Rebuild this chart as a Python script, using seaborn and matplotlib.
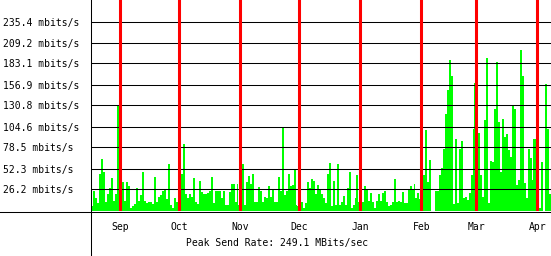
import numpy as np
import pandas as pd
import matplotlib
matplotlib.use("Agg")
import matplotlib.pyplot as plt
from matplotlib.lines import Line2D
import seaborn as sns

# ---- data (daily peak send rate, mbits/s), 2008-08-17 .. 2009-04-07 ----
aug = [5, 24, 15, 9, 46, 64, 48, 10, 21, 28, 40, 12, 20, 131, 104]
sep = [15, 35, 12, 35, 30, 3, 5, 8, 28, 12, 19, 48, 12, 9, 11, 10, 8, 42, 10, 17,
       19, 24, 27, 14, 58, 7, 3, 15, 10, 6]
oct_ = [7, 46, 83, 20, 15, 20, 17, 40, 10, 8, 37, 23, 20, 20, 22, 24, 42, 9, 24, 24,
        24, 16, 24, 7, 7, 23, 33, 33, 11, 33, 7]
nov = [17, 58, 7, 36, 43, 33, 46, 11, 11, 29, 24, 11, 17, 15, 31, 17, 27, 10, 11, 42,
       24, 103, 19, 24, 46, 30, 32, 51, 7, 5]
dec = [5, 10, 3, 9, 35, 28, 39, 37, 20, 32, 25, 20, 15, 9, 46, 59, 6, 37, 7, 58,
       7, 11, 18, 7, 28, 48, 3, 7, 16, 44, 10]
jan = [32, 11, 31, 26, 12, 22, 10, 3, 12, 20, 12, 22, 24, 10, 5, 7, 11, 39, 10, 12,
       10, 23, 9, 9, 26, 31, 26, 33, 15, 22, 14]
feb = [63, 44, 100, 36, 63, 0, 0, 24, 24, 44, 53, 77, 120, 150, 188, 167, 8, 89, 9, 76,
       86, 15, 17, 13, 22, 44, 101, 159]
mar = [172, 96, 44, 17, 113, 190, 9, 62, 60, 127, 185, 110, 48, 114, 92, 95, 75, 67, 130, 127,
       32, 38, 200, 168, 34, 16, 76, 66, 38, 89, 89]
apr = [120, 3, 60, 0, 158, 101, 20]

start_date = "2008-08-17"
end_date = "2009-04-08"
month_labels = ["Sep", "Oct", "Nov", "Dec", "Jan", "Feb", "Mar", "Apr"]
month_starts = ["2008-09-01", "2008-10-01", "2008-11-01", "2008-12-01",
                "2009-01-01", "2009-02-01", "2009-03-01", "2009-04-01"]
ytick_values = [26.2, 52.3, 78.5, 104.6, 130.8, 156.9, 183.1, 209.2, 235.4]
ytick_labels = ["26.2 mbits/s", "52.3 mbits/s", "78.5 mbits/s", "104.6 mbits/s",
                "130.8 mbits/s", "156.9 mbits/s", "183.1 mbits/s", "209.2 mbits/s",
                "235.4 mbits/s"]
peak_text = "Peak Send Rate: 249.1 MBits/sec"

values = aug + sep + oct_ + nov + dec + jan + feb + mar + apr
t0 = pd.Timestamp(start_date)
dates = pd.date_range(start_date, periods=len(values), freq="D")
day_pos = (dates - t0).days.values + 0.5
df = pd.DataFrame({"day": day_pos, "rate": values})
month_pos = [(pd.Timestamp(m) - t0).days for m in month_starts]
x_end = (pd.Timestamp(end_date) - t0).days - 0.1

# ---- figure ----
W, H = 551, 256
fig = plt.figure(figsize=(W / 100, H / 100), dpi=100, facecolor="white")
ax_left = 91 / W
ax_bottom = (H - 210.5) / H
ax = fig.add_axes([ax_left, ax_bottom, 1 - ax_left, 1 - ax_bottom])
ax.set_facecolor("white")

sns.barplot(data=df, x="day", y="rate", native_scale=True, color="#00ff00",
            saturation=1, width=1.0, errorbar=None, linewidth=0, ax=ax)
for p in ax.patches:
    p.set_antialiased(False)

ax.set_xlim(0, x_end)
ax.set_ylim(0, 210.5 / 21 * 26.156)

for s in ax.spines.values():
    s.set_visible(False)

# horizontal grid (drawn above bars)
for v in ytick_values:
    ax.axhline(v, color="black", lw=0.75, zorder=2.5)
# baseline (blue)
ax.axhline(0, color="#6a6aff", lw=0.8, zorder=2.6)
# red month lines
for m in month_pos:
    ax.axvline(m, color="#ff0000", lw=2.2, zorder=3)

mono = "DejaVu Sans Mono"
ax.set_yticks(ytick_values)
ax.set_yticklabels(ytick_labels, fontfamily=mono, fontsize=7, ha="left")
ax.tick_params(axis="y", length=0, pad=63.5)
ax.set_xticks(month_pos)
ax.set_xticklabels(month_labels, fontfamily=mono, fontsize=7)
ax.tick_params(axis="x", length=0, pad=8.5)
ax.set_xlabel("")
ax.set_ylabel("")

# frame lines extending past the plot area
fig.add_artist(Line2D([90.5 / W, 90.5 / W], [0, 1], transform=fig.transFigure,
                      color="black", lw=0.75))
fig.add_artist(Line2D([0, 1], [(H - 211.5) / H, (H - 211.5) / H],
                      transform=fig.transFigure, color="black", lw=0.75))

fig.text(186 / W, 1 - 243 / H, peak_text, fontfamily=mono, fontsize=7,
         ha="left", va="center")

fig.savefig("out.png", dpi=100, facecolor="white")
